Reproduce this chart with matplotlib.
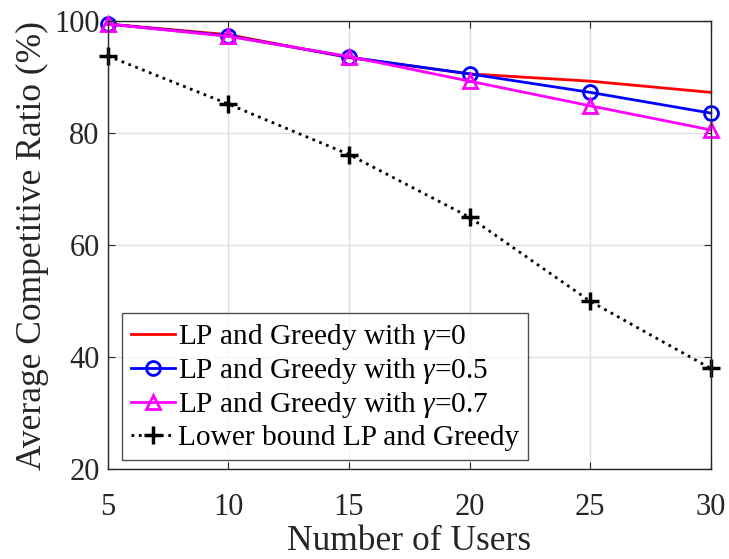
import matplotlib
matplotlib.use('Agg')
import matplotlib.pyplot as plt

plt.rcParams['font.family'] = ['Liberation Serif', 'DejaVu Serif']
plt.rcParams['mathtext.fontset'] = 'custom'
plt.rcParams['mathtext.rm'] = 'Liberation Serif'
plt.rcParams['mathtext.it'] = 'Liberation Serif:italic'

# number of users on the x axis
users = [5, 10, 15, 20, 25, 30]

# average competitive ratio (%) for each policy
ratio_g0 = [99.5, 97.6, 93.5, 90.6, 89.3, 87.3]
ratio_g05 = [99.5, 97.4, 93.6, 90.6, 87.3, 83.6]
ratio_g07 = [99.5, 97.3, 93.7, 89.3, 84.9, 80.6]
lower_bound = [93.8, 85.2, 76.2, 65.0, 50.0, 38.0]

labels = [r'LP and Greedy with $\gamma$=0',
          r'LP and Greedy with $\gamma$=0.5',
          r'LP and Greedy with $\gamma$=0.7',
          'Lower bound LP and Greedy']

fig = plt.figure(figsize=(7.29, 5.59), dpi=100)
ax = fig.add_axes([0.148, 0.1605, 0.827, 0.8015])

ax.plot(users, ratio_g0, '-', color='red', lw=2, label=labels[0],
        clip_on=False)
ax.plot(users, ratio_g05, '-o', color='blue', lw=2, ms=10, mew=2,
        mfc='none', label=labels[1], clip_on=False)
ax.plot(users, ratio_g07, '-^', color='magenta', lw=2, ms=10, mew=2,
        mfc='none', label=labels[2], clip_on=False)
ax.plot(users, lower_bound, ':+', color='black', lw=2, ms=13, mew=2.5,
        label=labels[3], clip_on=False)

ax.set_xlim(5, 30)
ax.set_ylim(20, 100)
ax.set_xticks(users)
ax.set_yticks([20, 40, 60, 80, 100])
ax.grid(True, color='#dedede', lw=1)
ax.set_axisbelow(True)

for s in ax.spines.values():
    s.set_color('#262626')
    s.set_linewidth(1)
ax.tick_params(direction='in', top=True, right=True, length=5,
               labelsize=22, colors='#262626')
ax.tick_params(axis='x', pad=17)
ax.tick_params(axis='y', pad=6)

ax.set_xlabel('Number of Users', fontsize=25.5, color='#262626', labelpad=2)
ax.set_ylabel('Average Competitive Ratio (%)', fontsize=25.5,
              color='#262626', labelpad=4)

leg = ax.legend(loc='lower left', prop={'family': 'Liberation Serif', 'size': 21.2},
                frameon=True, fancybox=False,
                edgecolor='#262626', handlelength=1.5, handletextpad=0.1,
                borderpad=0.3, labelspacing=0.14, borderaxespad=0,
                bbox_to_anchor=(0.023, 0.021))
leg.get_frame().set_linewidth(1)

fig.savefig('out.png', dpi=100)
